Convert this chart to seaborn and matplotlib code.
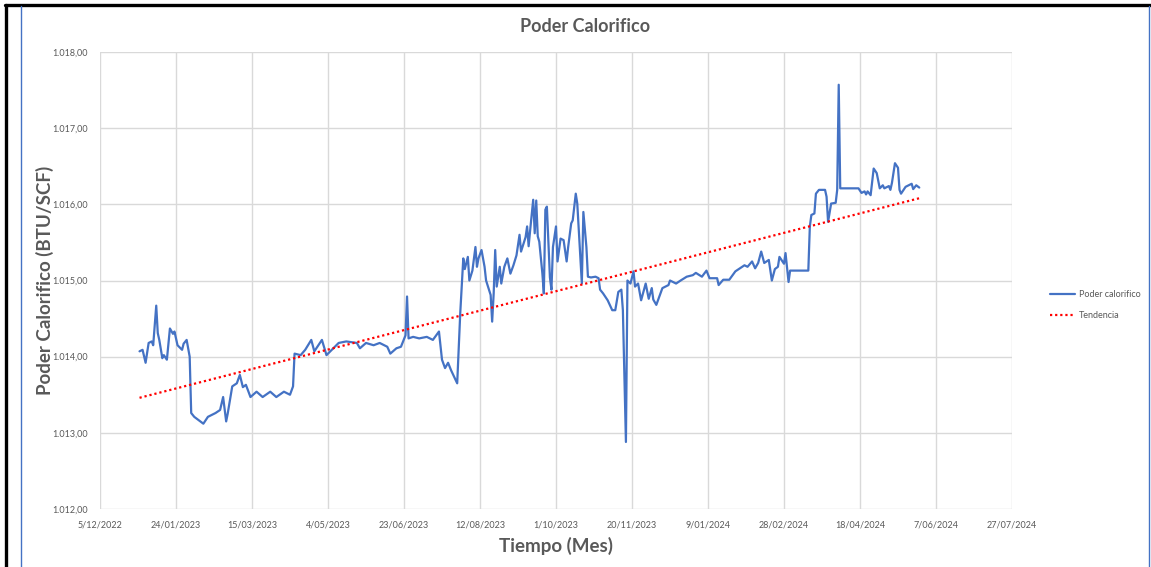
import matplotlib
matplotlib.use("Agg")
import matplotlib.pyplot as plt
import matplotlib.dates as mdates
from matplotlib.ticker import FuncFormatter, FixedLocator
from matplotlib.lines import Line2D
import numpy as np
import pandas as pd
import seaborn as sns

# ---------------- data ----------------
fechas = [
    "2022-12-31",
    "2023-01-02", "2023-01-04", "2023-01-06", "2023-01-08", "2023-01-09", "2023-01-11", "2023-01-12",
    "2023-01-13", "2023-01-15", "2023-01-16", "2023-01-18", "2023-01-20", "2023-01-22", "2023-01-23",
    "2023-01-25", "2023-01-28", "2023-01-29", "2023-01-31",
    "2023-02-02", "2023-02-03", "2023-02-05", "2023-02-09", "2023-02-11", "2023-02-14", "2023-02-19",
    "2023-02-22", "2023-02-24", "2023-02-26", "2023-02-27",
    "2023-03-02", "2023-03-05", "2023-03-07", "2023-03-09", "2023-03-11", "2023-03-14", "2023-03-18",
    "2023-03-22", "2023-03-27", "2023-03-31",
    "2023-04-05", "2023-04-09", "2023-04-11", "2023-04-12", "2023-04-16", "2023-04-19", "2023-04-23",
    "2023-04-25", "2023-04-30",
    "2023-05-03", "2023-05-06", "2023-05-11", "2023-05-16", "2023-05-23", "2023-05-25", "2023-05-29",
    "2023-06-03", "2023-06-07", "2023-06-12", "2023-06-14", "2023-06-18", "2023-06-21", "2023-06-24",
    "2023-06-25", "2023-06-26", "2023-06-29",
    "2023-07-03", "2023-07-08", "2023-07-12", "2023-07-16", "2023-07-18", "2023-07-20", "2023-07-22",
    "2023-07-24", "2023-07-28", "2023-07-30",
    "2023-08-01", "2023-08-02", "2023-08-04", "2023-08-05", "2023-08-07", "2023-08-09", "2023-08-10",
    "2023-08-11", "2023-08-13", "2023-08-15", "2023-08-16", "2023-08-19", "2023-08-20", "2023-08-21",
    "2023-08-22", "2023-08-23", "2023-08-25", "2023-08-26", "2023-08-28", "2023-08-30",
    "2023-09-01", "2023-09-03", "2023-09-05", "2023-09-07", "2023-09-08", "2023-09-11", "2023-09-12",
    "2023-09-13", "2023-09-14", "2023-09-16", "2023-09-17", "2023-09-18", "2023-09-19", "2023-09-20",
    "2023-09-22", "2023-09-23", "2023-09-24", "2023-09-25", "2023-09-27", "2023-09-28", "2023-09-29",
    "2023-10-01", "2023-10-02", "2023-10-04", "2023-10-06", "2023-10-08", "2023-10-09", "2023-10-11",
    "2023-10-12", "2023-10-14", "2023-10-15", "2023-10-16", "2023-10-18", "2023-10-19", "2023-10-21",
    "2023-10-22", "2023-10-24", "2023-10-27", "2023-10-29", "2023-10-30",
    "2023-11-01", "2023-11-04", "2023-11-07", "2023-11-09", "2023-11-11", "2023-11-13", "2023-11-14",
    "2023-11-16", "2023-11-17", "2023-11-19", "2023-11-21", "2023-11-22", "2023-11-24", "2023-11-26",
    "2023-11-29",
    "2023-12-01", "2023-12-03", "2023-12-04", "2023-12-06", "2023-12-10", "2023-12-14", "2023-12-15",
    "2023-12-19", "2023-12-22", "2023-12-26", "2023-12-30",
    "2024-01-01", "2024-01-05", "2024-01-08", "2024-01-10", "2024-01-15", "2024-01-16", "2024-01-19",
    "2024-01-23", "2024-01-27", "2024-01-30",
    "2024-02-02", "2024-02-04", "2024-02-07", "2024-02-09", "2024-02-11", "2024-02-13", "2024-02-15",
    "2024-02-18", "2024-02-20", "2024-02-22", "2024-02-24", "2024-02-25", "2024-02-28", "2024-02-29",
    "2024-03-02", "2024-03-03", "2024-03-15", "2024-03-16", "2024-03-17", "2024-03-19", "2024-03-20",
    "2024-03-22", "2024-03-26", "2024-03-27", "2024-03-28", "2024-03-30",
    "2024-04-02", "2024-04-03", "2024-04-04", "2024-04-05", "2024-04-17", "2024-04-19", "2024-04-21",
    "2024-04-22", "2024-04-23", "2024-04-25", "2024-04-27", "2024-04-29",
    "2024-05-01", "2024-05-03", "2024-05-04", "2024-05-07", "2024-05-08", "2024-05-09", "2024-05-11",
    "2024-05-13", "2024-05-14", "2024-05-15", "2024-05-18", "2024-05-20", "2024-05-22", "2024-05-23",
    "2024-05-25", "2024-05-27",
]

poder_calorifico = [
    1014.07,
    1014.09, 1013.92, 1014.18, 1014.20, 1014.15, 1014.67, 1014.31,
    1014.22, 1013.98, 1014.02, 1013.96, 1014.37, 1014.30, 1014.33,
    1014.15, 1014.09, 1014.17, 1014.22,
    1014.00, 1013.26, 1013.21, 1013.15, 1013.12, 1013.21, 1013.26,
    1013.30, 1013.47, 1013.15, 1013.25,
    1013.61, 1013.65, 1013.76, 1013.60, 1013.63, 1013.47, 1013.54,
    1013.47, 1013.54, 1013.47,
    1013.54, 1013.50, 1013.61, 1014.04, 1014.02, 1014.09, 1014.22,
    1014.07, 1014.22,
    1014.02, 1014.08, 1014.18, 1014.20, 1014.18, 1014.11, 1014.18,
    1014.15, 1014.18, 1014.13, 1014.04, 1014.11, 1014.13, 1014.28,
    1014.79, 1014.24, 1014.26,
    1014.24, 1014.26, 1014.22, 1014.33, 1013.96, 1013.85, 1013.92,
    1013.82, 1013.65, 1014.57,
    1015.29, 1015.15, 1015.31, 1015.00, 1015.13, 1015.44, 1015.18,
    1015.29, 1015.40, 1015.18, 1015.00, 1014.81, 1014.46, 1014.83,
    1015.40, 1014.92, 1015.18, 1014.96, 1015.18, 1015.29,
    1015.09, 1015.20, 1015.33, 1015.60, 1015.38, 1015.57, 1015.71,
    1015.45, 1015.66, 1016.06, 1015.62, 1016.05, 1015.58, 1015.51,
    1015.10, 1014.83, 1015.93, 1015.97, 1015.04, 1014.88, 1015.44,
    1015.71, 1015.25, 1015.55, 1015.53, 1015.25, 1015.44, 1015.75,
    1015.79, 1016.14, 1016.01, 1015.66, 1014.96, 1015.90, 1015.44,
    1015.05, 1015.04, 1015.05, 1015.03, 1014.88,
    1014.83, 1014.74, 1014.61, 1014.61, 1014.85, 1014.88, 1014.61,
    1012.88, 1015.00, 1014.96, 1015.12, 1014.92, 1014.96, 1014.74,
    1014.96,
    1014.76, 1014.90, 1014.75, 1014.68, 1014.90, 1014.94, 1015.00,
    1014.96, 1015.00, 1015.05, 1015.07,
    1015.10, 1015.05, 1015.13, 1015.03, 1015.03, 1014.94, 1015.01,
    1015.01, 1015.12, 1015.16,
    1015.20, 1015.18, 1015.25, 1015.16, 1015.23, 1015.38, 1015.23,
    1015.27, 1015.00, 1015.15, 1015.18, 1015.31, 1015.22, 1015.36,
    1014.98, 1015.13, 1015.13, 1015.71, 1015.86, 1015.88, 1016.14,
    1016.19, 1016.19, 1016.10, 1015.77, 1016.01,
    1016.02, 1016.19, 1017.57, 1016.21, 1016.21, 1016.15, 1016.17,
    1016.13, 1016.17, 1016.12, 1016.47, 1016.41,
    1016.21, 1016.25, 1016.21, 1016.24, 1016.19, 1016.28, 1016.54,
    1016.48, 1016.19, 1016.14, 1016.23, 1016.25, 1016.27, 1016.20,
    1016.25, 1016.22,
]

# trend line end points
tendencia_fechas = ["2022-12-31", "2024-05-27"]
tendencia_valores = [1013.46, 1016.08]

x_ticks = ["2022-12-05", "2023-01-24", "2023-03-15", "2023-05-04", "2023-06-23",
           "2023-08-12", "2023-10-01", "2023-11-20", "2024-01-09", "2024-02-28",
           "2024-04-18", "2024-06-07", "2024-07-27"]
y_ticks = [1012, 1013, 1014, 1015, 1016, 1017, 1018]

assert len(fechas) == len(poder_calorifico)

df = pd.DataFrame({"Fecha": pd.to_datetime(fechas), "Valor": poder_calorifico})
df_tend = pd.DataFrame({"Fecha": pd.to_datetime(tendencia_fechas), "Valor": tendencia_valores})

# ---------------- style ----------------
sns.set_theme(style="white")
plt.rcParams["font.family"] = ["Lato", "DejaVu Sans"]

W, H = 1151, 567
fig = plt.figure(figsize=(W / 100, H / 100), dpi=100)
fig.patch.set_facecolor("white")
ax = fig.add_axes([100 / W, 1 - 509 / H, (1012 - 100) / W, (509 - 52) / H])

blue = "#4472C4"
red = "#FF0000"
txt = "#595959"
grid = "#D9D9D9"

sns.lineplot(data=df, x="Fecha", y="Valor", ax=ax, color=blue, linewidth=1.6,
             label="Poder calorifico", legend=False)
sns.lineplot(data=df_tend, x="Fecha", y="Valor", ax=ax, color=red, linewidth=1.6,
             linestyle=(0, (1, 1.3)), label="Tendencia", legend=False)

xt = mdates.date2num(pd.to_datetime(x_ticks))
ax.set_xlim(xt[0], xt[-1])
ax.set_ylim(y_ticks[0], y_ticks[-1])
ax.xaxis.set_major_locator(FixedLocator(xt))
ax.yaxis.set_major_locator(FixedLocator(y_ticks))


def fmt_date(v, pos):
    d = mdates.num2date(v)
    return f"{d.day}/{d.month:02d}/{d.year}"


def fmt_num(v, pos):
    s = f"{v:,.2f}"
    return s.replace(",", "X").replace(".", ",").replace("X", ".")


ax.xaxis.set_major_formatter(FuncFormatter(fmt_date))
ax.yaxis.set_major_formatter(FuncFormatter(fmt_num))

ax.grid(True, color=grid, linewidth=1.0)
ax.set_axisbelow(True)
for s in ax.spines.values():
    s.set_visible(False)
ax.tick_params(axis="both", length=0, labelsize=6.5, colors=txt)
ax.tick_params(axis="x", pad=8)
ax.tick_params(axis="y", pad=9)

ax.set_xlabel("Tiempo (Mes)", fontsize=13.5, fontweight="bold", color=txt)
ax.xaxis.set_label_coords(0.5, -(537 - 509) / (509 - 52), transform=ax.transAxes)
ax.set_ylabel("Poder Calorifico (BTU/SCF)", fontsize=13.5, fontweight="bold", color=txt,
              va="center")
ax.yaxis.set_label_coords((45 - 100) / (1012 - 100), 0.5, transform=ax.transAxes)

fig.text(585 / W, 1 - 27 / H, "Poder Calorifico", ha="center", va="center",
         fontsize=13, fontweight="bold", color=txt)

handles = [Line2D([], [], color=blue, linewidth=1.6),
           Line2D([], [], color=red, linewidth=1.6, linestyle=(0, (1, 1.3)))]
fig.legend(handles, ["Poder calorifico", "Tendencia"], loc="center left",
           bbox_to_anchor=(1042 / W, 1 - 305 / H), frameon=False, fontsize=6.5,
           labelcolor=txt, handlelength=2.8, handletextpad=0.4, labelspacing=1.3)

# decorative frame lines of the screenshot
fig.add_artist(Line2D([5 / W, 1], [1 - 5 / H, 1 - 5 / H], color="black", linewidth=2.4,
                      transform=fig.transFigure))
fig.add_artist(Line2D([6 / W, 6 / W], [0, 1 - 5 / H], color="black", linewidth=2.4,
                      transform=fig.transFigure))
fig.add_artist(Line2D([20.5 / W, 20.5 / W], [0, 1 - 6 / H], color=blue, linewidth=1.0,
                      transform=fig.transFigure))
fig.add_artist(Line2D([1148.5 / W, 1148.5 / W], [0, 1 - 6 / H], color=blue, linewidth=1.0,
                      transform=fig.transFigure))

fig.savefig("out.png", dpi=100, facecolor="white")
